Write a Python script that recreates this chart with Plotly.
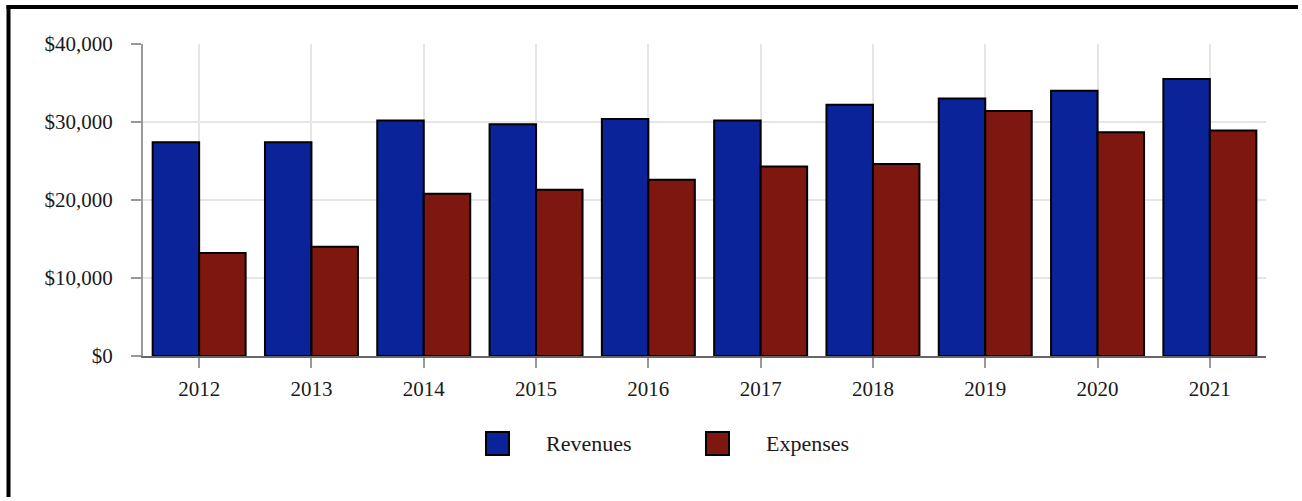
import plotly.graph_objects as go

# Annual figures
years = ["2012", "2013", "2014", "2015", "2016", "2017", "2018", "2019", "2020", "2021"]
revenues = [27400, 27400, 30200, 29700, 30400, 30200, 32200, 33000, 34000, 35500]
expenses = [13200, 14000, 20800, 21300, 22600, 24300, 24600, 31400, 28700, 28900]
series_names = ["Revenues", "Expenses"]
series_colors = ["#0b2399", "#7e1710"]
y_ticks = [0, 10000, 20000, 30000, 40000]
y_tick_labels = ["$0", "$10,000", "$20,000", "$30,000", "$40,000"]

FONT = "Liberation Serif"
TEXT_COLOR = "#1a1a1a"
W, H = 1302, 501
L, R, T, B = 143, 36, 44, 145
PW, PH = W - L - R, H - T - B


def px_x(px):
    return (px - L) / PW


def px_y(py):
    return (H - B - py) / PH


fig = go.Figure()
for name, vals, col in zip(series_names, [revenues, expenses], series_colors):
    fig.add_trace(go.Bar(
        x=years, y=vals, name=name,
        marker=dict(color=col, line=dict(color="#000000", width=2)),
        showlegend=False,
    ))

shapes = [
    # frame edges: top and left, as filled bands kept just inside the page
    dict(type="rect", xref="paper", yref="paper",
         x0=px_x(6.5), x1=px_x(W - 4), y0=px_y(5), y1=px_y(9),
         line=dict(width=0), fillcolor="#000000"),
    dict(type="rect", xref="paper", yref="paper",
         x0=px_x(6.5), x1=px_x(10.5), y0=px_y(5), y1=px_y(H - 4),
         line=dict(width=0), fillcolor="#000000"),
]
annotations = []
legend_items = [(486, 546), (706, 766)]
for (sq_x, tx_x), name, col in zip(legend_items, series_names, series_colors):
    shapes.append(dict(
        type="rect", xref="paper", yref="paper",
        xsizemode="pixel", ysizemode="pixel",
        xanchor=px_x(sq_x), yanchor=px_y(443.5),
        x0=0, x1=23, y0=-11.5, y1=11.5,
        fillcolor=col, line=dict(color="#000000", width=2),
    ))
    annotations.append(dict(
        xref="paper", yref="paper", x=px_x(tx_x - 2), y=px_y(444),
        xanchor="left", yanchor="middle", showarrow=False,
        text=name, font=dict(family=FONT, size=22, color=TEXT_COLOR),
    ))

fig.update_layout(
    width=W, height=H,
    margin=dict(l=L, r=R, t=T, b=B, pad=0),
    paper_bgcolor="#ffffff", plot_bgcolor="#ffffff",
    barmode="group", bargap=0.172, bargroupgap=0,
    font=dict(family=FONT, size=21, color=TEXT_COLOR),
    shapes=shapes, annotations=annotations,
    showlegend=False,
)
fig.update_xaxes(
    type="category",
    showgrid=True, gridcolor="#e6e6e6", gridwidth=2,
    showline=True, linecolor="#666666", linewidth=2,
    ticks="outside", ticklen=10, tickwidth=2, tickcolor="#999999",
    ticklabelstandoff=3,
    tickfont=dict(family=FONT, size=21, color=TEXT_COLOR),
)
fig.update_yaxes(
    range=[0, 40000], tickvals=y_ticks, ticktext=y_tick_labels,
    showgrid=True, gridcolor="#e6e6e6", gridwidth=2,
    showline=True, linecolor="#999999", linewidth=2,
    ticks="outside", ticklen=10, tickwidth=2, tickcolor="#999999",
    ticklabelstandoff=14, zeroline=False,
    tickfont=dict(family=FONT, size=21, color=TEXT_COLOR),
)

fig.write_html("out.html", config={"displayModeBar": False})
